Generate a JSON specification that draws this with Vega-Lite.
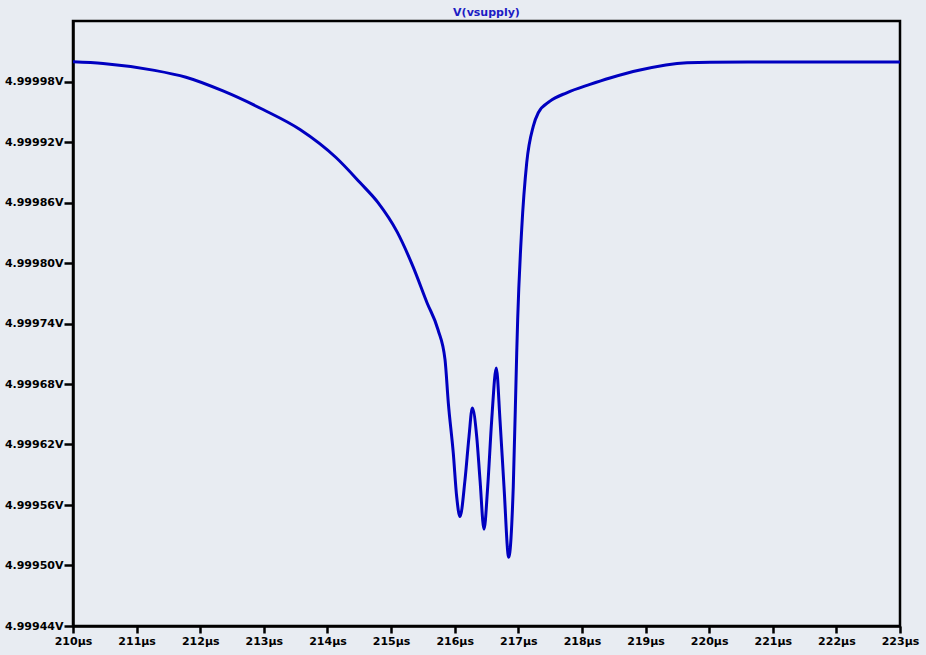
{
  "$schema": "https://vega.github.io/schema/vega-lite/v6.json",
  "width": 827,
  "height": 605,
  "autosize": {"type": "none"},
  "padding": {"left": 73, "top": 21, "right": 26, "bottom": 29},
  "background": "#e8ecf2",
  "title": {
    "text": "V(vsupply)",
    "anchor": "middle",
    "font": "DejaVu Sans",
    "fontSize": 11,
    "fontWeight": "bold",
    "color": "#1c1cc4",
    "offset": 3
  },
  "config": {
    "view": {"stroke": "black", "strokeWidth": 2.5, "fill": "#e8ecf2"},
    "axis": {
      "domainColor": "black",
      "domainWidth": 2.5,
      "tickColor": "black",
      "tickWidth": 2.5,
      "grid": false,
      "labelFont": "DejaVu Sans",
      "labelFontSize": 11,
      "labelFontWeight": "bold",
      "labelColor": "black",
      "title": null
    }
  },
  "data": {
    "values": [
      {"t": 210.000, "v": 4.9999996},
      {"t": 210.472, "v": 4.9999979},
      {"t": 211.258, "v": 4.9999913},
      {"t": 211.776, "v": 4.9999842},
      {"t": 212.358, "v": 4.9999706},
      {"t": 212.987, "v": 4.9999522},
      {"t": 213.568, "v": 4.9999324},
      {"t": 214.134, "v": 4.9999046},
      {"t": 214.511, "v": 4.9998798},
      {"t": 214.795, "v": 4.9998599},
      {"t": 215.093, "v": 4.9998311},
      {"t": 215.345, "v": 4.9997964},
      {"t": 215.565, "v": 4.9997606},
      {"t": 215.738, "v": 4.9997338},
      {"t": 215.848, "v": 4.9997041},
      {"t": 215.900, "v": 4.9996611},
      {"t": 215.978, "v": 4.9996114},
      {"t": 216.031, "v": 4.9995684},
      {"t": 216.083, "v": 4.9995485},
      {"t": 216.162, "v": 4.9995849},
      {"t": 216.225, "v": 4.9996279},
      {"t": 216.277, "v": 4.9996561},
      {"t": 216.346, "v": 4.9996279},
      {"t": 216.398, "v": 4.9995849},
      {"t": 216.461, "v": 4.9995360},
      {"t": 216.519, "v": 4.9995783},
      {"t": 216.582, "v": 4.9996445},
      {"t": 216.654, "v": 4.9996958},
      {"t": 216.712, "v": 4.9996445},
      {"t": 216.775, "v": 4.9995783},
      {"t": 216.849, "v": 4.9995082},
      {"t": 216.921, "v": 4.9995783},
      {"t": 216.975, "v": 4.9997107},
      {"t": 216.990, "v": 4.9997438},
      {"t": 217.053, "v": 4.9998331},
      {"t": 217.132, "v": 4.9998993},
      {"t": 217.236, "v": 4.9999357},
      {"t": 217.314, "v": 4.9999490},
      {"t": 217.498, "v": 4.9999605},
      {"t": 217.761, "v": 4.9999688},
      {"t": 218.127, "v": 4.9999771},
      {"t": 218.441, "v": 4.9999835},
      {"t": 218.913, "v": 4.9999914},
      {"t": 219.652, "v": 4.9999986},
      {"t": 220.013, "v": 4.9999992},
      {"t": 221.500, "v": 4.9999993},
      {"t": 223.000, "v": 4.9999994}
    ]
  },
  "mark": {"type": "line", "color": "#0000c0", "strokeWidth": 3, "interpolate": "monotone", "clip": true},
  "encoding": {
    "x": {
      "field": "t",
      "type": "quantitative",
      "scale": {"domain": [210, 223], "nice": false, "zero": false},
      "axis": {
        "values": [210, 211, 212, 213, 214, 215, 216, 217, 218, 219, 220, 221, 222, 223],
        "labelExpr": "datum.value + 'µs'",
        "tickSize": 7,
        "labelPadding": 2,
        "labelFlush": false,
        "labelOverlap": false
      }
    },
    "y": {
      "field": "v",
      "type": "quantitative",
      "scale": {"domain": [4.99944, 5.00004], "nice": false, "zero": false},
      "axis": {
        "values": [4.99944, 4.9995, 4.99956, 4.99962, 4.99968, 4.99974, 4.9998, 4.99986, 4.99992, 4.99998],
        "labelExpr": "format(datum.value, '.5f') + 'V'",
        "tickSize": 9,
        "labelPadding": 1,
        "labelFlush": false,
        "labelOverlap": false
      }
    }
  }
}
